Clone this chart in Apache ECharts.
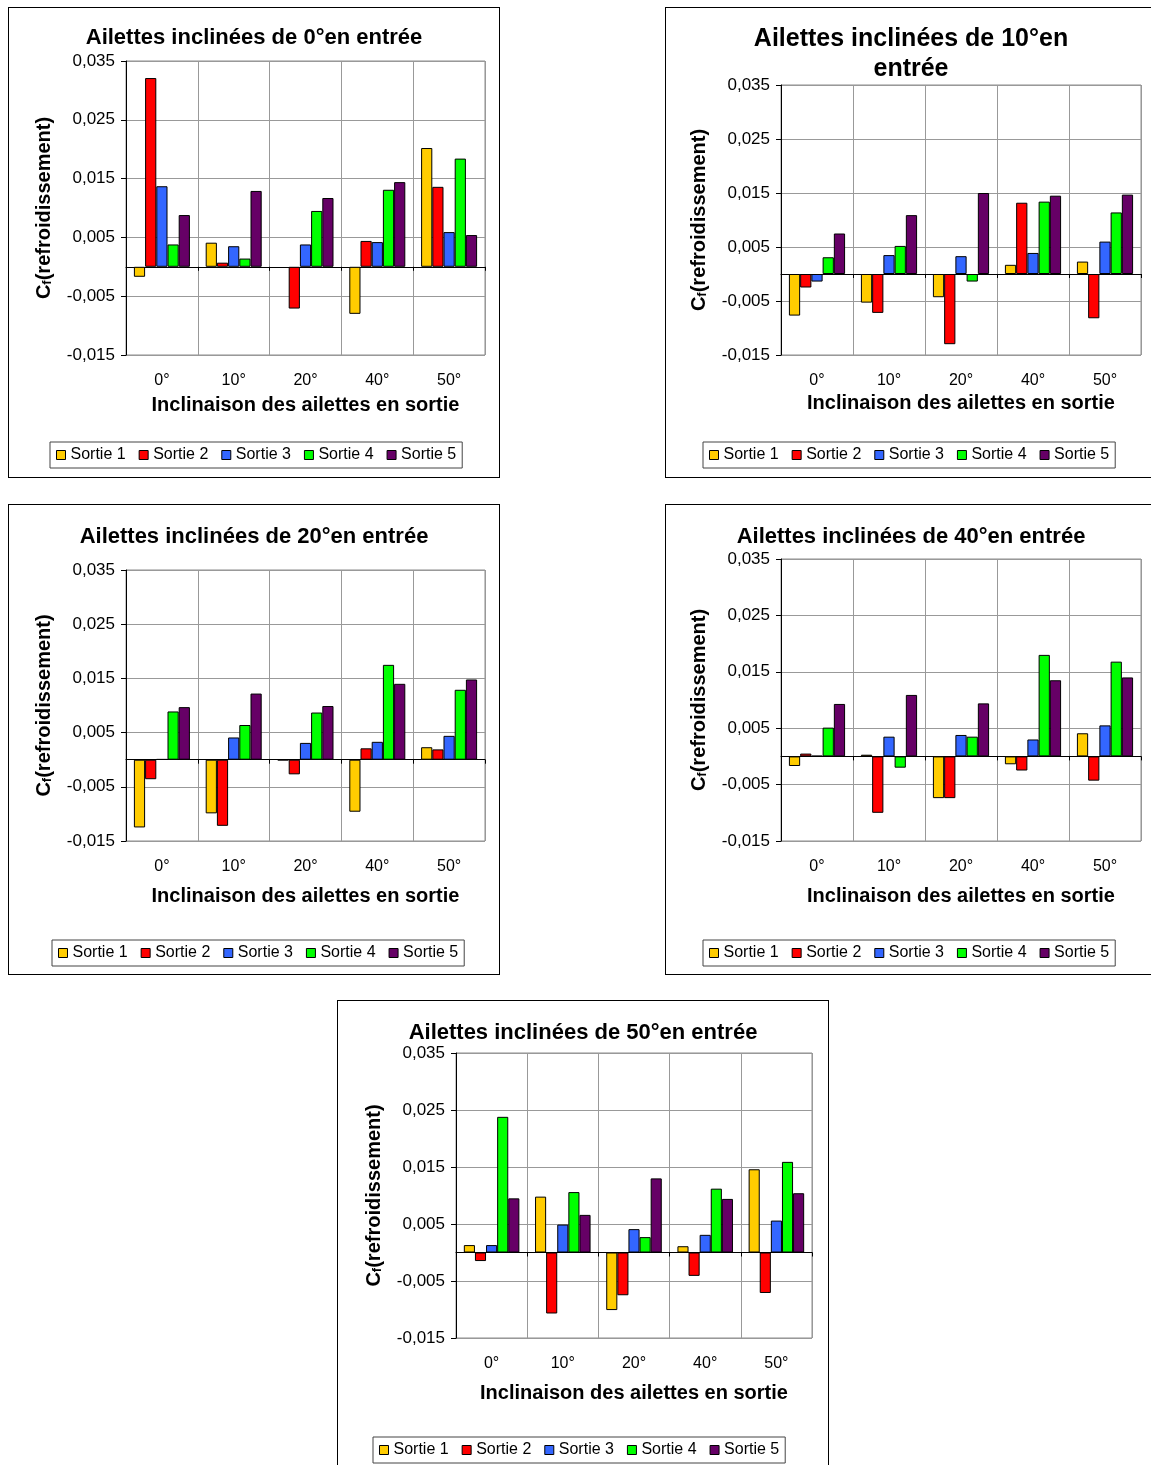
<!DOCTYPE html>
<html>
<head>
<meta charset="utf-8">
<script src="https://cdn.jsdelivr.net/npm/echarts@6/dist/echarts.min.js"></script>
<style>
html,body{margin:0;padding:0;background:#fff;overflow:hidden;width:1151px;height:1465px;}
.c{position:absolute;}
.b{position:absolute;border:1px solid #000;box-sizing:border-box;pointer-events:none;}
</style>
</head>
<body>
<script>
// ---------- DATA ----------
const categories = ['0°', '10°', '20°', '40°', '50°'];
const seriesNames = ['Sortie 1', 'Sortie 2', 'Sortie 3', 'Sortie 4', 'Sortie 5'];
const yTicks = [-0.015, -0.005, 0.005, 0.015, 0.025, 0.035];

const titles = [
  'Ailettes inclinées de 0°en entrée',
  'Ailettes inclinées de 10°en\nentrée',
  'Ailettes inclinées de 20°en entrée',
  'Ailettes inclinées de 40°en entrée',
  'Ailettes inclinées de 50°en entrée'
];
const xTitle = 'Inclinaison des ailettes en sortie';

// entrée 0°
const e0_s1 = [-0.0017, 0.0041, null, -0.0080, 0.0202];
const e0_s2 = [0.0321, 0.0007, -0.0071, 0.0044, 0.0136];
const e0_s3 = [0.0137, 0.0035, 0.0038, 0.0042, 0.0059];
const e0_s4 = [0.0038, 0.0014, 0.0095, 0.0131, 0.0184];
const e0_s5 = [0.0088, 0.0129, 0.0117, 0.0144, 0.0054];
// entrée 10°
const e10_s1 = [-0.0077, -0.0053, -0.0043, 0.0017, 0.0023];
const e10_s2 = [-0.0025, -0.0072, -0.0130, 0.0132, -0.0082];
const e10_s3 = [-0.0014, 0.0035, 0.0033, 0.0039, 0.0060];
const e10_s4 = [0.0031, 0.0052, -0.0014, 0.0134, 0.0114];
const e10_s5 = [0.0075, 0.0109, 0.0150, 0.0145, 0.0147];
// entrée 20°
const e20_s1 = [-0.0125, -0.0099, -0.0001, -0.0096, 0.0023];
const e20_s2 = [-0.0036, -0.0122, -0.0027, 0.0021, 0.0019];
const e20_s3 = [0.0001, 0.0041, 0.0031, 0.0033, 0.0044];
const e20_s4 = [0.0089, 0.0064, 0.0087, 0.0175, 0.0129];
const e20_s5 = [0.0097, 0.0122, 0.0099, 0.0140, 0.0148];
// entrée 40°
const e40_s1 = [-0.0017, 0.0003, -0.0074, -0.0014, 0.0041];
const e40_s2 = [0.0005, -0.0100, -0.0074, -0.0025, -0.0043];
const e40_s3 = [0.0001, 0.0035, 0.0038, 0.0030, 0.0055];
const e40_s4 = [0.0051, -0.0020, 0.0035, 0.0180, 0.0168];
const e40_s5 = [0.0093, 0.0109, 0.0094, 0.0135, 0.0140];
// entrée 50°
const e50_s1 = [0.0013, 0.0098, -0.0101, 0.0011, 0.0146];
const e50_s2 = [-0.0015, -0.0107, -0.0075, -0.0041, -0.0071];
const e50_s3 = [0.0013, 0.0049, 0.0041, 0.0031, 0.0056];
const e50_s4 = [0.0238, 0.0106, 0.0027, 0.0112, 0.0159];
const e50_s5 = [0.0095, 0.0066, 0.0130, 0.0094, 0.0104];

const chartData = [
  [e0_s1, e0_s2, e0_s3, e0_s4, e0_s5],
  [e10_s1, e10_s2, e10_s3, e10_s4, e10_s5],
  [e20_s1, e20_s2, e20_s3, e20_s4, e20_s5],
  [e40_s1, e40_s2, e40_s3, e40_s4, e40_s5],
  [e50_s1, e50_s2, e50_s3, e50_s4, e50_s5]
];

// ---------- LAYOUT / STYLE ----------
const colors = ['#FFCC00', '#FF0000', '#3366FF', '#00FF00', '#660066'];
const FONT = '"Liberation Sans", Arial, sans-serif';
const layouts = [
  {x: 8,   y: 7,    grid: {left: 118, top: 54, width: 359, height: 294}, titleTop: 16, titleSize: 22, xGap: 40, legLeft: 42, legTop: 435},
  {x: 665, y: 7,    grid: {left: 116, top: 78, width: 360, height: 270}, titleTop: 17, titleSize: 25, xGap: 38, legLeft: 38, legTop: 435},
  {x: 8,   y: 504,  grid: {left: 118, top: 66, width: 359, height: 271}, titleTop: 18, titleSize: 22, xGap: 45, legLeft: 44, legTop: 436},
  {x: 665, y: 504,  grid: {left: 116, top: 55, width: 360, height: 282}, titleTop: 18, titleSize: 22, xGap: 45, legLeft: 38, legTop: 436},
  {x: 337, y: 1000, grid: {left: 119, top: 53, width: 356, height: 285}, titleTop: 18, titleSize: 22, xGap: 45, legLeft: 36, legTop: 437}
];
const W = 492, H = 471;

function fmt(v) { return Number(v).toFixed(3).replace('.', ','); }

layouts.forEach(function (L, i) {
  const d = document.createElement('div');
  d.className = 'c';
  d.style.left = L.x + 'px'; d.style.top = L.y + 'px';
  d.style.width = W + 'px'; d.style.height = H + 'px';
  document.body.appendChild(d);
  const b = document.createElement('div');
  b.className = 'b';
  b.style.left = L.x + 'px'; b.style.top = L.y + 'px';
  b.style.width = W + 'px'; b.style.height = H + 'px';
  document.body.appendChild(b);

  const chart = echarts.init(d, null, {renderer: 'canvas'});
  const series = seriesNames.map(function (name, k) {
    return {
      name: name,
      type: 'bar',
      xAxisIndex: 0,
      yAxisIndex: 0,
      data: chartData[i][k],
      barGap: '0%',
      barCategoryGap: '22%',
      itemStyle: {color: colors[k], borderColor: '#000', borderWidth: 1},
      emphasis: {disabled: true},
      animation: false
    };
  });
  chart.setOption({
    animation: false,
    textStyle: {fontFamily: FONT},
    title: {
      text: titles[i],
      left: 'center',
      top: L.titleTop,
      padding: 0,
      itemGap: 0,
      textStyle: {fontFamily: FONT, fontSize: L.titleSize, fontWeight: 'bold', color: '#000', lineHeight: 30}
    },
    legend: {
      data: seriesNames,
      left: L.legLeft,
      top: L.legTop,
      icon: 'rect',
      itemWidth: 9,
      itemHeight: 9,
      itemGap: 13,
      padding: [5, 6],
      borderColor: '#444',
      borderWidth: 1,
      selectedMode: false,
      itemStyle: {borderColor: '#000', borderWidth: 1},
      textStyle: {fontFamily: FONT, fontSize: 16, color: '#000'}
    },
    grid: Object.assign({show: true, borderColor: '#8c8c8c', borderWidth: 1, backgroundColor: '#fff', containLabel: false}, L.grid),
    xAxis: [
      {
        type: 'category',
        data: categories,
        position: 'bottom',
        axisLine: {show: false, onZero: false},
        axisTick: {show: false},
        axisLabel: {fontFamily: FONT, fontSize: 16, color: '#000', margin: 18},
        splitLine: {show: true, lineStyle: {color: '#999', width: 1}},
        name: xTitle,
        nameLocation: 'middle',
        nameGap: L.xGap,
        nameTextStyle: {fontFamily: FONT, fontSize: 20, fontWeight: 'bold', color: '#000'}
      },
      {
        type: 'category',
        data: categories,
        position: 'bottom',
        axisLine: {show: true, onZero: true, onZeroAxisIndex: 0, lineStyle: {color: '#000', width: 1}},
        axisTick: {show: true, length: 4, lineStyle: {color: '#000'}},
        axisLabel: {show: false},
        splitLine: {show: false}
      }
    ],
    yAxis: {
      type: 'value',
      min: -0.015,
      max: 0.035,
      interval: 0.01,
      axisLine: {show: true, onZero: false, lineStyle: {color: '#000', width: 1}},
      axisTick: {show: true, length: 5, lineStyle: {color: '#000'}},
      axisLabel: {fontFamily: FONT, fontSize: 17, color: '#000', margin: 11, formatter: fmt},
      splitLine: {show: true, lineStyle: {color: '#999', width: 1}},
      name: '{c|C}{s|f}{c|(refroidissement)}',
      nameLocation: 'middle',
      nameRotate: 90,
      nameGap: 72,
      nameTextStyle: {
        fontFamily: FONT, fontSize: 20, fontWeight: 'bold', color: '#000',
        rich: {
          c: {fontFamily: FONT, fontSize: 20, fontWeight: 'bold', color: '#000'},
          s: {fontFamily: FONT, fontSize: 13, fontWeight: 'bold', color: '#000', verticalAlign: 'bottom'}
        }
      }
    },
    series: series
  });
});
</script>
</body>
</html>
